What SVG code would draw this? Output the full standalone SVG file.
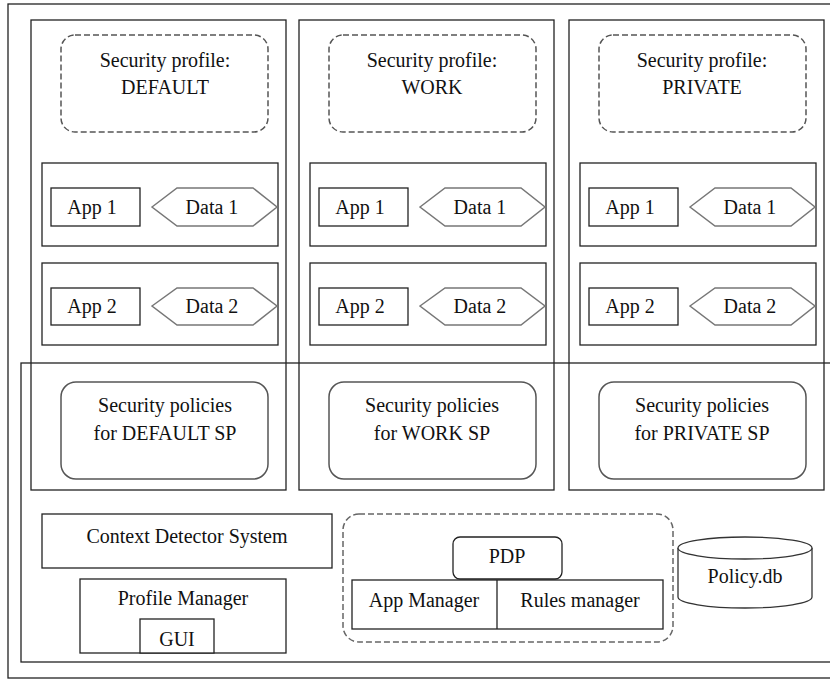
<svg xmlns="http://www.w3.org/2000/svg" width="830" height="679" viewBox="0 0 830 679">
  <style>
    text { font-size: 20px; fill: #111; text-anchor: middle; }
    .frame { fill: none; stroke: #222; stroke-width: 1.3; }
    .box { fill: #fff; stroke: #222; stroke-width: 1.3; }
    .profile { fill: #fff; stroke: #555; stroke-width: 1.5; stroke-dasharray: 6 3; }
    .policy { fill: #fff; stroke: #555; stroke-width: 1.5; }
    .data { fill: #fff; stroke: #777; stroke-width: 1.5; }
    .group { fill: none; stroke: #666; stroke-width: 1.5; stroke-dasharray: 6 3; }
  </style>
  <defs>
    <!-- one security-profile column, origin at its top-left corner -->
    <g id="column-shapes">
      <rect class="frame" x="0" y="0" width="255" height="470"/>
      <rect class="profile" x="30" y="15" width="207" height="97" rx="14"/>
      <rect class="box" x="11" y="143" width="236" height="83"/>
      <rect class="box" x="20" y="168" width="89" height="38"/>
      <polygon class="data" points="121,187 146,168 222,168 246,187 222,206 146,206"/>
      <text x="61" y="194" style="font-family:'Liberation Serif',serif">App 1</text>
      <text x="181" y="194" style="font-family:'Liberation Serif',serif">Data 1</text>
      <rect class="box" x="11" y="243" width="236" height="82"/>
      <rect class="box" x="20" y="268" width="89" height="37"/>
      <polygon class="data" points="121,286 146,268 222,268 246,286 222,305 146,305"/>
      <text x="61" y="293" style="font-family:'Liberation Serif',serif">App 2</text>
      <text x="181" y="293" style="font-family:'Liberation Serif',serif">Data 2</text>
    </g>
  </defs>

  <rect width="830" height="679" fill="#fff"/>

  <!-- outer device frame and lower platform frame (run off the right edge) -->
  <rect class="frame" x="8" y="4" width="830" height="674"/>
  <rect class="frame" x="21" y="363" width="820" height="299"/>

  <g id="sp-default">
    <use href="#column-shapes" x="31" y="20"/>
    <text x="165" y="67" style="font-family:'Liberation Serif',serif">Security profile:</text>
    <text x="165" y="94" style="font-family:'Liberation Serif',serif">DEFAULT</text>
    <rect class="policy" x="61" y="382" width="207" height="97" rx="15"/>
    <text x="165" y="412" style="font-family:'Liberation Serif',serif">Security policies</text>
    <text x="165" y="440" style="font-family:'Liberation Serif',serif">for DEFAULT SP</text>
  </g>

  <g id="sp-work">
    <use href="#column-shapes" x="299" y="20"/>
    <text x="432" y="67" style="font-family:'Liberation Serif',serif">Security profile:</text>
    <text x="432" y="94" style="font-family:'Liberation Serif',serif">WORK</text>
    <rect class="policy" x="329" y="382" width="207" height="97" rx="15"/>
    <text x="432" y="412" style="font-family:'Liberation Serif',serif">Security policies</text>
    <text x="432" y="440" style="font-family:'Liberation Serif',serif">for WORK SP</text>
  </g>

  <g id="sp-private">
    <use href="#column-shapes" x="569" y="20"/>
    <text x="702" y="67" style="font-family:'Liberation Serif',serif">Security profile:</text>
    <text x="702" y="94" style="font-family:'Liberation Serif',serif">PRIVATE</text>
    <rect class="policy" x="599" y="382" width="207" height="97" rx="15"/>
    <text x="702" y="412" style="font-family:'Liberation Serif',serif">Security policies</text>
    <text x="702" y="440" style="font-family:'Liberation Serif',serif">for PRIVATE SP</text>
  </g>

  <g id="context-detector">
    <rect class="box" x="42" y="514" width="290" height="54"/>
    <text x="187" y="543" style="font-family:'Liberation Serif',serif">Context Detector System</text>
  </g>

  <g id="profile-manager">
    <rect class="box" x="80" y="579" width="206" height="74"/>
    <text x="183" y="605" style="font-family:'Liberation Serif',serif">Profile Manager</text>
    <rect class="box" x="140" y="619" width="74" height="34"/>
    <text x="177" y="646" style="font-family:'Liberation Serif',serif">GUI</text>
  </g>

  <g id="pdp-group">
    <rect class="group" x="343" y="514" width="330" height="128" rx="16"/>
    <rect class="box" x="453" y="537" width="109" height="42" rx="7"/>
    <text x="507" y="563" style="font-family:'Liberation Serif',serif">PDP</text>
    <rect class="box" x="352" y="580" width="311" height="49"/>
    <line x1="497" y1="580" x2="497" y2="629" stroke="#222" stroke-width="1.3"/>
    <text x="424" y="607" style="font-family:'Liberation Serif',serif">App Manager</text>
    <text x="580" y="607" style="font-family:'Liberation Serif',serif">Rules manager</text>
  </g>

  <g id="policy-db">
    <path d="M678,548 L678,597 A67,11 0 0 0 812,597 L812,548" fill="#fff" stroke="#333" stroke-width="1.3"/>
    <ellipse cx="745" cy="548" rx="67" ry="11" fill="#fff" stroke="#333" stroke-width="1.3"/>
    <text x="745" y="583" style="font-family:'Liberation Serif',serif">Policy.db</text>
  </g>

  <g id="connectors"></g>
</svg>
